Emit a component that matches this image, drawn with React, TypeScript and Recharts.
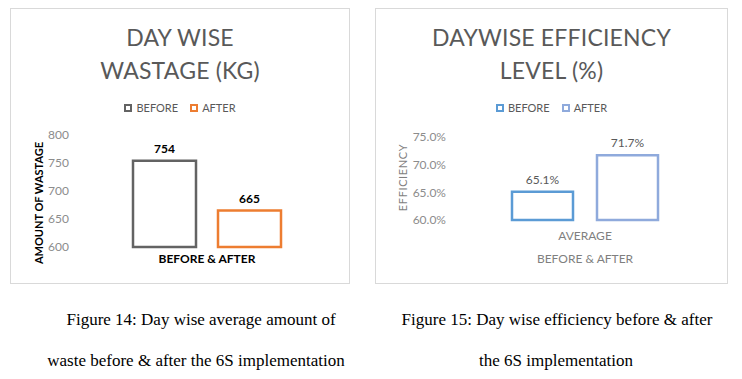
import React from "react";
import { BarChart, Bar, XAxis, YAxis, LabelList } from "recharts";

const seriesNames = ["BEFORE", "AFTER"];

// figure 14
const wasteCategories = [""];
const wasteBefore = [754];
const wasteAfter = [665];
const wasteTicks = [600, 650, 700, 750, 800];

// figure 15
const effCategories = ["AVERAGE"];
const effBefore = [65.1];
const effAfter = [71.7];
const effTicks = [60, 65, 70, 75];

const wasteData = wasteCategories.map((c, i) => ({
	name: c,
	BEFORE: wasteBefore[i],
	AFTER: wasteAfter[i]
}));
const effData = effCategories.map((c, i) => ({
	name: c,
	BEFORE: effBefore[i],
	AFTER: effAfter[i]
}));

const FONT = "Lato, 'Open Sans', sans-serif";
const GRID = "#d9d9d9";

function yTitle(text: string, dx: number, dy: number, style: any) {
	return (props: any) => {
		const vb = props.viewBox;
		const cx = vb.x + dx;
		const cy = vb.y + vb.height / 2 + dy;
		return (
			<text
				x={cx}
				y={cy}
				transform={`rotate(-90 ${cx} ${cy})`}
				textAnchor="middle"
				dominantBaseline="central"
				{...style}
			>
				{text}
			</text>
		);
	};
}

function xTitle(text: string, dy: number, style: any) {
	return (props: any) => {
		const vb = props.viewBox;
		return (
			<text
				x={vb.x + vb.width / 2}
				y={vb.y + dy}
				textAnchor="middle"
				dominantBaseline="central"
				{...style}
			>
				{text}
			</text>
		);
	};
}

function Legend2({ colors, top }: { colors: string[]; top: number }) {
	return (
		<div
			style={{
				position: "absolute",
				top: top,
				left: 0,
				width: "100%",
				display: "flex",
				justifyContent: "center",
				alignItems: "center",
				fontSize: 11,
				color: "#595959"
			}}
		>
			{seriesNames.map((s, i) => (
				<div key={s} style={{ display: "flex", alignItems: "center", marginRight: i === 0 ? 12 : 0 }}>
					<span
						style={{
							display: "inline-block",
							width: 8,
							height: 8,
							border: `2px solid ${colors[i]}`,
							boxSizing: "border-box",
							marginRight: 4
						}}
					/>
					<span>{s}</span>
				</div>
			))}
		</div>
	);
}

function Title({ lines }: { lines: string[] }) {
	return (
		<div
			style={{
				position: "absolute",
				top: 12,
				left: 0,
				width: "100%",
				textAlign: "center",
				fontSize: 23,
				lineHeight: "33px",
				color: "#595959",
				fontWeight: 400,
				letterSpacing: 0.2
			}}
		>
			{lines.map((l) => (
				<div key={l}>{l}</div>
			))}
		</div>
	);
}

function WasteChart() {
	const colors = ["#636363", "#ed7d31"];
	return (
		<div style={{ position: "absolute", left: 11, top: 9, width: 338, height: 274, outline: `1px solid ${GRID}` }}>
			<Title lines={["DAY WISE", "WASTAGE (KG)"]} />
			<Legend2 colors={colors} top={92} />
			<div style={{ position: "absolute", left: 0, top: 0 }}>
				<BarChart
					width={338}
					height={274}
					data={wasteData}
					margin={{ top: 126, right: 10, left: 0, bottom: 0 }}
					barSize={63}
					barGap={22}
				>
					<XAxis
						dataKey="name"
						tick={false}
						axisLine={false}
						tickLine={false}
						height={36}
						label={{ content: xTitle("BEFORE & AFTER", 11, { fontSize: 12, fontWeight: 700, fill: "#000" }) }}
					/>
					<YAxis
						domain={[600, 800]}
						ticks={wasteTicks}
						width={64}
						axisLine={false}
						tickLine={false}
						tickSize={4}
						tickMargin={2}
						tick={{ fontSize: 12, fill: "#8c8c8c" }}
						label={{ content: yTitle("AMOUNT OF WASTAGE", 27, 12, { fontSize: 11, fontWeight: 700, fill: "#000" }) }}
					/>
					{seriesNames.map((s, i) => (
						<Bar key={s} dataKey={s} fill="#ffffff" stroke={colors[i]} strokeWidth={2.5} isAnimationActive={false}>
							<LabelList dataKey={s} position="top" offset={8} style={{ fontSize: 12, fontWeight: 700, fill: "#000" }} />
						</Bar>
					))}
				</BarChart>
			</div>
		</div>
	);
}

function EfficiencyChart() {
	const colors = ["#5b9bd5", "#8faadc"];
	return (
		<div style={{ position: "absolute", left: 376, top: 9, width: 351, height: 274, outline: `1px solid ${GRID}` }}>
			<Title lines={["DAYWISE EFFICIENCY", "LEVEL (%)"]} />
			<Legend2 colors={colors} top={92} />
			<div style={{ position: "absolute", left: 0, top: 0 }}>
				<BarChart
					width={351}
					height={274}
					data={effData}
					margin={{ top: 128, right: 11, left: 0, bottom: 0 }}
					barSize={61}
					barGap={24}
				>
					<XAxis
						dataKey="name"
						axisLine={false}
						tickLine={false}
						tickMargin={5}
						height={63}
						tick={{ fontSize: 12, fill: "#7f7f7f" }}
						label={{ content: xTitle("BEFORE & AFTER", 38, { fontSize: 12, fill: "#7f7f7f" }) }}
					/>
					<YAxis
						domain={[60, 75]}
						ticks={effTicks}
						width={78}
						axisLine={false}
						tickLine={false}
						tickFormatter={(v: number) => v.toFixed(1) + "%"}
						tick={{ fontSize: 12, fill: "#8c8c8c" }}
						label={{ content: yTitle("EFFICIENCY", 26, -1, { fontSize: 11, fill: "#7f7f7f", letterSpacing: 0.6 }) }}
					/>
					{seriesNames.map((s, i) => (
						<Bar key={s} dataKey={s} fill="#ffffff" stroke={colors[i]} strokeWidth={2.5} isAnimationActive={false}>
							<LabelList
								dataKey={s}
								position="top"
								offset={8}
								formatter={(v: any) => Number(v).toFixed(1) + "%"}
								style={{ fontSize: 12, fill: "#595959" }}
							/>
						</Bar>
					))}
				</BarChart>
			</div>
		</div>
	);
}

function Caption({ text, center, y }: { text: string; center: number; y: number }) {
	return (
		<div
			style={{
				position: "absolute",
				left: center - 200,
				width: 400,
				top: y - 10,
				height: 20,
				lineHeight: "20px",
				textAlign: "center",
				fontFamily: "'Liberation Serif', 'Times New Roman', serif",
				fontSize: 17,
				color: "#000",
				whiteSpace: "nowrap"
			}}
		>
			{text}
		</div>
	);
}

export default function App() {
	return (
		<div
			style={{
				position: "absolute",
				left: 0,
				top: 0,
				width: 742,
				height: 379,
				background: "#fff",
				fontFamily: FONT,
				overflow: "hidden"
			}}
		>
			<WasteChart />
			<EfficiencyChart />
			<Caption text="Figure 14: Day wise average amount of" center={201} y={320} />
			<Caption text="waste before & after the 6S implementation" center={196} y={361} />
			<Caption text="Figure 15: Day wise efficiency before & after" center={557} y={320} />
			<Caption text="the 6S implementation" center={556} y={361} />
		</div>
	);
}
